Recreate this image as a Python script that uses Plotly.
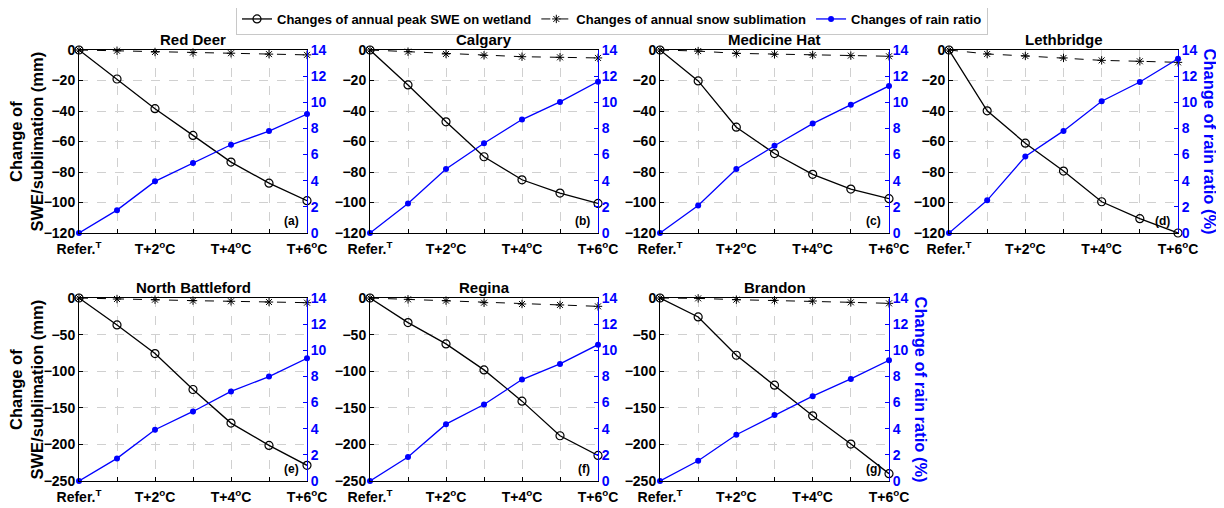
import plotly.graph_objects as go

# ---------------- data ----------------
stations = ["Red Deer", "Calgary", "Medicine Hat", "Lethbridge",
            "North Battleford", "Regina", "Brandon"]
panel_tags = ["(a)", "(b)", "(c)", "(d)", "(e)", "(f)", "(g)"]
scenarios = ["Refer.", "T+1°C", "T+2°C", "T+3°C", "T+4°C", "T+5°C", "T+6°C"]
tick_text = ["Refer.<sup>T</sup>", "", "T+2<sup>o</sup>C", "", "T+4<sup>o</sup>C", "", "T+6<sup>o</sup>C"]

swe_red_deer = [0, -19, -38.5, -56, -73.5, -87.3, -98.8]
sub_red_deer = [0, -0.5, -1.3, -1.7, -2.1, -2.7, -3.2]
rain_red_deer = [0, 1.75, 3.95, 5.35, 6.75, 7.8, 9.1]

swe_calgary = [0, -22.9, -47.1, -70, -85.1, -93.8, -100.6]
sub_calgary = [0, -1.1, -2.6, -3.5, -4.4, -4.8, -5.2]
rain_calgary = [0, 2.25, 4.9, 6.87, 8.68, 10.03, 11.58]

swe_medicine_hat = [0, -20.3, -50.6, -67.9, -81.5, -91.2, -97.5]
sub_medicine_hat = [0, -0.7, -2.2, -2.8, -3.3, -3.7, -4.1]
rain_medicine_hat = [0, 2.1, 4.9, 6.67, 8.37, 9.82, 11.25]

swe_lethbridge = [0, -39.9, -61.1, -79.4, -99.5, -110.6, -120]
sub_lethbridge = [0, -2.6, -3.9, -5.2, -6.8, -7.4, -8.1]
rain_lethbridge = [0, 2.5, 5.85, 7.81, 10.08, 11.55, 13.33]

swe_north_battleford = [0, -36.8, -75.9, -125, -170.9, -201.4, -228.6]
sub_north_battleford = [0, -1.4, -2.3, -3.6, -4.5, -5.5, -6.4]
rain_north_battleford = [0, 1.73, 3.92, 5.32, 6.85, 7.99, 9.39]

swe_regina = [0, -33.6, -62.7, -98.2, -140.9, -188.2, -215]
sub_regina = [0, -1.8, -3.6, -6.4, -8.2, -9.5, -11.4]
rain_regina = [0, 1.83, 4.35, 5.85, 7.76, 8.96, 10.43]

swe_brandon = [0, -25.9, -78.2, -119.1, -160.9, -199.5, -240]
sub_brandon = [0, -0.5, -2.3, -3.2, -4.1, -5.9, -7.3]
rain_brandon = [0, 1.55, 3.54, 5.04, 6.49, 7.81, 9.24]

swe_all = [swe_red_deer, swe_calgary, swe_medicine_hat, swe_lethbridge,
           swe_north_battleford, swe_regina, swe_brandon]
sub_all = [sub_red_deer, sub_calgary, sub_medicine_hat, sub_lethbridge,
           sub_north_battleford, sub_regina, sub_brandon]
rain_all = [rain_red_deer, rain_calgary, rain_medicine_hat, rain_lethbridge,
            rain_north_battleford, rain_regina, rain_brandon]

left_ranges = [[-120, 0]] * 4 + [[-250, 0]] * 3
left_dticks = [20] * 4 + [50] * 3

# ---------------- layout geometry (window pixels) ----------------
OFF = 8                     # default page body margin
W, H = 1224 - OFF, 508 - OFF
col_px = [(79, 307), (370, 598), (660, 889), (949, 1178)]
row_px = [(50, 233), (298, 481)]
positions = [(0, 0), (0, 1), (0, 2), (0, 3), (1, 0), (1, 1), (1, 2)]


def px_x(p):
    return (p - OFF) / W


def px_y(p):
    return 1 - (p - OFF) / H


FONT = "Liberation Sans, Arial, Helvetica, sans-serif"
BLUE = "#0000ff"
GRID = "#d0d0d0"

x_pos = list(range(len(scenarios)))

fig = go.Figure()
layout = dict(
    width=W, height=H,
    margin=dict(l=0, r=0, t=0, b=0, autoexpand=False),
    paper_bgcolor="white", plot_bgcolor="white",
    font=dict(family=FONT, size=14, color="black", weight="bold"),
    showlegend=True,
    legend=dict(orientation="h", x=px_x(612), xanchor="center", y=px_y(3), yanchor="top",
                bordercolor="#c8c8c8", borderwidth=1, bgcolor="white",
                font=dict(family=FONT, size=13, color="black", weight="bold"),
                itemwidth=30, tracegroupgap=0),
)
annotations = []

for i, (r, c) in enumerate(positions):
    k = i + 1
    xa = f"x{k}" if k > 1 else "x"
    ya = f"y{k}" if k > 1 else "y"
    yr_idx = k + 7
    yr = f"y{yr_idx}"
    x0, x1 = col_px[c]
    y0, y1 = row_px[r]
    xdom = [px_x(x0), px_x(x1)]
    ydom = [px_y(y1), px_y(y0)]

    layout[f"xaxis{k if k > 1 else ''}"] = dict(
        domain=xdom, anchor=ya, range=[0, 6],
        tickmode="array", tickvals=x_pos, ticktext=tick_text,
        showgrid=True, gridcolor=GRID, griddash="dash", gridwidth=1,
        showline=True, linecolor="black", linewidth=1, mirror=True,
        ticks="inside", ticklen=4, tickcolor="black", ticklabelstandoff=3,
        tickfont=dict(family=FONT, size=14, color="black", weight="bold"),
        zeroline=False, fixedrange=True,
    )
    layout[f"yaxis{k if k > 1 else ''}"] = dict(
        domain=ydom, anchor=xa, range=left_ranges[i], dtick=left_dticks[i],
        showgrid=True, gridcolor=GRID, griddash="dash", gridwidth=1,
        showline=True, linecolor="black", linewidth=1,
        ticks="inside", ticklen=4, tickcolor="black",
        tickfont=dict(family=FONT, size=14, color="black", weight="bold"),
        zeroline=False,
    )
    layout[f"yaxis{yr_idx}"] = dict(
        overlaying=ya, anchor=xa, side="right", range=[0, 14], dtick=2,
        showgrid=False, showline=True, linecolor=BLUE, linewidth=1,
        ticks="inside", ticklen=4, tickcolor=BLUE,
        tickfont=dict(family=FONT, size=14, color=BLUE, weight="bold"),
        zeroline=False,
    )

    show = (i == 0)
    fig.add_trace(go.Scatter(
        x=x_pos, y=rain_all[i], xaxis=xa, yaxis=yr, mode="lines+markers",
        name="Changes of rain ratio", legendrank=3, showlegend=show,
        line=dict(color=BLUE, width=1.3),
        marker=dict(symbol="circle", size=6, color=BLUE),
        cliponaxis=False))
    fig.add_trace(go.Scatter(
        x=x_pos, y=sub_all[i], xaxis=xa, yaxis=ya, mode="lines+markers",
        name="Changes of annual snow sublimation", legendrank=2, showlegend=show,
        line=dict(color="black", width=1, dash="dash"),
        marker=dict(symbol="asterisk-open", size=7, color="black",
                    line=dict(color="black", width=1)),
        cliponaxis=False))
    fig.add_trace(go.Scatter(
        x=x_pos, y=swe_all[i], xaxis=xa, yaxis=ya, mode="lines+markers",
        name="Changes of annual peak SWE on wetland", legendrank=1, showlegend=show,
        line=dict(color="black", width=1.3),
        marker=dict(symbol="circle-open", size=8, color="black",
                    line=dict(color="black", width=1.2)),
        cliponaxis=False))

    # station title
    annotations.append(dict(
        text=stations[i], xref="paper", yref="paper",
        x=px_x((x0 + x1) / 2), y=px_y(y0 - 11), xanchor="center", yanchor="middle",
        showarrow=False, font=dict(family=FONT, size=15, color="black", weight="bold")))
    # panel tag
    annotations.append(dict(
        text=panel_tags[i], xref="paper", yref="paper",
        x=px_x(x1 - 6), y=px_y(y1 - 12), xanchor="right", yanchor="middle",
        showarrow=False, font=dict(family=FONT, size=12, color="black", weight="bold")))

# left axis titles
for (y0, y1) in row_px:
    annotations.append(dict(
        text="Change of<br>SWE/sublimation (mm)", xref="paper", yref="paper",
        x=px_x(26), y=px_y((y0 + y1) / 2), xanchor="center", yanchor="middle",
        textangle=-90, showarrow=False,
        font=dict(family=FONT, size=16.5, color="black", weight="bold")))

# right axis titles
for (xr, (y0, y1)) in [(1210, row_px[0]), (921, row_px[1])]:
    annotations.append(dict(
        text="Change of rain ratio (%)", xref="paper", yref="paper",
        x=px_x(xr), y=px_y((y0 + y1) / 2), xanchor="center", yanchor="middle",
        textangle=90, showarrow=False,
        font=dict(family=FONT, size=16.5, color=BLUE, weight="bold")))

layout["annotations"] = annotations
fig.update_layout(**layout)
fig.write_html("out.html")
